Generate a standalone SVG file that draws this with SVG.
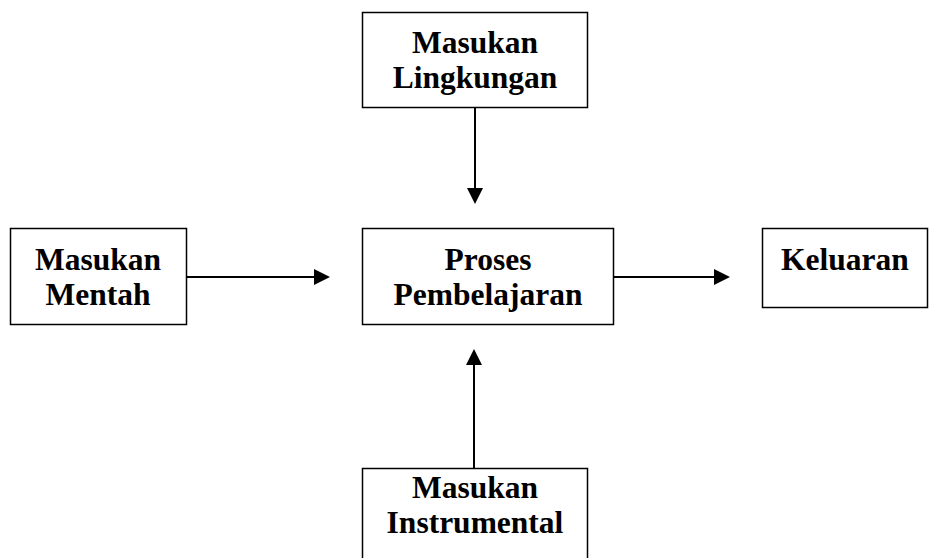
<svg xmlns="http://www.w3.org/2000/svg" width="929" height="558" viewBox="0 0 929 558">
<defs>
<style>
.box{fill:#fff;stroke:#000;stroke-width:1.5}
.t{font-family:"Liberation Serif","Times New Roman",serif;font-weight:bold;font-size:31.5px;fill:#000;text-anchor:middle}
.c{stroke:#000;stroke-width:2;fill:none}
</style>
</defs>
<rect width="929" height="558" fill="#fff"/>
<g id="connectors">
<path class="c" d="M475,108 V196" />
<path d="M467,188 L483,188 L475,204 z" fill="#000"/>
<path class="c" d="M187,277 H322"/>
<path d="M314,269 L330,277 L314,285 z" fill="#000"/>
<path class="c" d="M614,277 H722"/>
<path d="M714,269 L730,277 L714,285 z" fill="#000"/>
<path class="c" d="M474,468 V358"/>
<path d="M466,365 L474,349 L482,365 z" fill="#000"/>
</g>
<g id="masukan-lingkungan">
<rect class="box" x="362.5" y="12.5" width="225" height="95"/>
<text class="t" x="475" y="53">Masukan</text>
<text class="t" x="475" y="88">Lingkungan</text>
</g>
<g id="masukan-mentah">
<rect class="box" x="10.5" y="228.5" width="176" height="96"/>
<text class="t" x="98" y="270">Masukan</text>
<text class="t" x="98" y="305">Mentah</text>
</g>
<g id="proses-pembelajaran">
<rect class="box" x="362.5" y="228.5" width="251" height="96"/>
<text class="t" x="488" y="270">Proses</text>
<text class="t" x="488" y="305">Pembelajaran</text>
</g>
<g id="keluaran">
<rect class="box" x="762.5" y="228.5" width="165" height="79"/>
<text class="t" x="845" y="270">Keluaran</text>
</g>
<g id="masukan-instrumental">
<rect class="box" x="362.5" y="468.5" width="225" height="100"/>
<text class="t" x="475" y="498">Masukan</text>
<text class="t" x="475" y="533">Instrumental</text>
</g>
</svg>
